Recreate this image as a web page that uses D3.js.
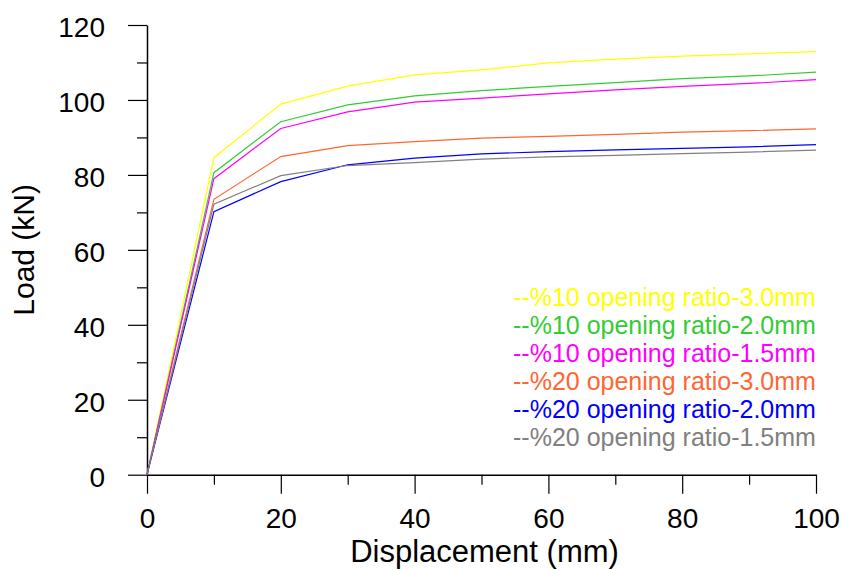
<!DOCTYPE html>
<html>
<head>
<meta charset="utf-8">
<script src="https://cdn.jsdelivr.net/npm/d3@7"></script>
<style>
  html, body { margin: 0; padding: 0; background: #fff; }
  svg { display: block; font-family: "Liberation Sans", Arial, sans-serif; }
</style>
</head>
<body>
<svg id="chart" width="843" height="570"></svg>
<script>
// Displacement steps (mm)
const displacement = [0, 10, 20, 30, 40, 50, 60, 70, 80, 90, 100];

// Load (kN) for each specimen
const load10_30 = [0, 84.6, 98.9, 103.7, 106.7, 108.0, 109.9, 110.9, 111.7, 112.3, 112.9];
const load10_20 = [0, 80.6, 94.2, 98.7, 101.1, 102.5, 103.6, 104.6, 105.7, 106.4, 107.4];
const load10_15 = [0, 79.0, 92.4, 96.8, 99.4, 100.5, 101.6, 102.7, 103.6, 104.4, 105.4];
const load20_30 = [0, 73.5, 84.9, 87.8, 88.9, 89.8, 90.3, 90.8, 91.4, 91.8, 92.3];
const load20_20 = [0, 70.2, 78.2, 82.7, 84.5, 85.6, 86.2, 86.7, 87.1, 87.5, 88.1];
const load20_15 = [0, 72.2, 79.8, 82.5, 83.3, 84.2, 84.8, 85.2, 85.7, 86.1, 86.6];

const seriesNames = [
  "--%10 opening ratio-3.0mm",
  "--%10 opening ratio-2.0mm",
  "--%10 opening ratio-1.5mm",
  "--%20 opening ratio-3.0mm",
  "--%20 opening ratio-2.0mm",
  "--%20 opening ratio-1.5mm"
];
const seriesColors = ["#FFFF00", "#33CC33", "#FF00FF", "#FF6633", "#0000FF", "#808080"];
const seriesValues = [load10_30, load10_20, load10_15, load20_30, load20_20, load20_15];

const xTicks = [0, 20, 40, 60, 80, 100];
const yTicks = [0, 20, 40, 60, 80, 100, 120];

const svg = d3.select("#chart");

const x = d3.scaleLinear().domain([0, 100]).range([147, 816]);
const y = d3.scaleLinear().domain([0, 120]).range([474.7, 25]);

// Bottom axis: minor ticks, then major ticks with labels
const xMinor = svg.append("g").attr("transform", `translate(0,${y(0)})`)
  .call(d3.axisBottom(x).tickValues(d3.range(10, 100, 20)).tickSize(10).tickFormat(""));
xMinor.select(".domain").remove();
xMinor.selectAll(".tick line").attr("stroke-width", 1.2);
const xMajor = svg.append("g").attr("transform", `translate(0,${y(0)})`)
  .call(d3.axisBottom(x).tickValues(xTicks).tickSize(19).tickSizeOuter(0).tickPadding(14).tickFormat(d3.format("d")));
xMajor.select(".domain").attr("stroke-width", 1.5);
xMajor.selectAll(".tick line").attr("stroke-width", 1.2);
xMajor.selectAll(".tick text").attr("font-size", 28).attr("fill", "#000")
  .attr("font-family", "Liberation Sans, Arial, sans-serif");

// Left axis: minor ticks, then major ticks with labels
const yMinor = svg.append("g").attr("transform", `translate(${x(0)},0)`)
  .call(d3.axisLeft(y).tickValues(d3.range(10, 120, 20)).tickSize(10).tickFormat(""));
yMinor.select(".domain").remove();
yMinor.selectAll(".tick line").attr("stroke-width", 1.2);
const yMajor = svg.append("g").attr("transform", `translate(${x(0)},0)`)
  .call(d3.axisLeft(y).tickValues(yTicks).tickSize(19).tickSizeOuter(0).tickPadding(23).tickFormat(d3.format("d")));
yMajor.select(".domain").attr("stroke-width", 1.5);
yMajor.selectAll(".tick line").attr("stroke-width", 1.2);
yMajor.selectAll(".tick text").attr("font-size", 28).attr("fill", "#000")
  .attr("dy", "0.42em")
  .attr("font-family", "Liberation Sans, Arial, sans-serif");

// Load–displacement curves
const line = d3.line()
  .x((d, i) => x(displacement[i]))
  .y(d => y(d));

svg.append("g").selectAll("path")
  .data(seriesValues)
  .join("path")
  .attr("d", line)
  .attr("fill", "none")
  .attr("stroke", (d, i) => seriesColors[i])
  .attr("stroke-width", 1.2);

// Legend (coloured text entries)
svg.append("g").selectAll("text")
  .data(seriesNames)
  .join("text")
  .attr("x", 513)
  .attr("y", (d, i) => 305.7 + i * 28)
  .attr("font-size", 25)
  .attr("fill", (d, i) => seriesColors[i])
  .text(d => d);

// Axis titles
svg.append("text")
  .attr("x", (x(0) + x(100)) / 2 + 3)
  .attr("y", 562)
  .attr("text-anchor", "middle")
  .attr("font-size", 31)
  .attr("fill", "#000")
  .text("Displacement (mm)");

svg.append("text")
  .attr("transform", `translate(34.3,${(y(0) + y(120)) / 2}) rotate(-90)`)
  .attr("text-anchor", "middle")
  .attr("font-size", 30)
  .attr("fill", "#000")
  .text("Load (kN)");
</script>
</body>
</html>
